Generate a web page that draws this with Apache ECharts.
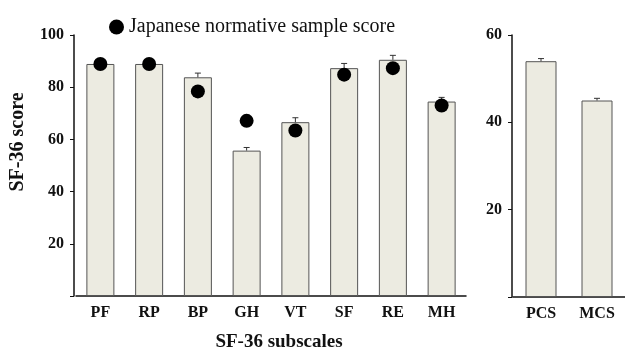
<!DOCTYPE html>
<html>
<head>
<meta charset="utf-8">
<script src="https://cdn.jsdelivr.net/npm/echarts@6/dist/echarts.min.js"></script>
<style>
  html, body { margin: 0; padding: 0; background: #fff; }
  #chart { width: 625px; height: 352px; }
</style>
</head>
<body>
<div id="chart"></div>
<script>
let chart = echarts.init(document.getElementById("chart"));

// SF-36 subscales (left panel)
let subscales = ["PF", "RP", "BP", "GH", "VT", "SF", "RE", "MH"];
let subscaleMean = [88.9, 88.9, 83.8, 55.7, 66.6, 87.3, 90.5, 74.5];
let subscaleSE = [0.5, 0.5, 1.6, 1.2, 1.7, 1.8, 1.7, 1.6];
let japaneseNorm = [88.9, 88.9, 78.4, 67.1, 63.4, 84.8, 87.3, 73.0];

// summary scores (right panel)
let summary = ["PCS", "MCS"];
let summaryMean = [54.0, 45.0];
let summarySE = [0.6, 0.5];

let serif = "Liberation Serif";
let barFill = "#ecebe1";
let ink = "#111";

function errorBar(params, api) {
  let i = api.value(0);
  let base = api.coord([i, api.value(1)]);
  let top = api.coord([i, api.value(1) + api.value(2)]);
  let cap = 3;
  return {
    type: "group",
    children: [
      { type: "line", shape: { x1: base[0], y1: base[1], x2: top[0], y2: top[1] }, style: { stroke: "#333", lineWidth: 1 } },
      { type: "line", shape: { x1: top[0] - cap, y1: top[1], x2: top[0] + cap, y2: top[1] }, style: { stroke: "#333", lineWidth: 1 } },
    ],
  };
}

let yLabel = {
  fontFamily: serif,
  fontWeight: "bold",
  fontSize: 16,
  color: ink,
  margin: 10,
};
let xLabel = {
  fontFamily: serif,
  fontWeight: "bold",
  fontSize: 16,
  color: ink,
  margin: 9,
};

chart.setOption({
  animation: false,
  legend: {
    data: ["Japanese normative sample score"],
    left: 104,
    top: 12,
    icon: "circle",
    itemWidth: 15,
    itemHeight: 15,
    textStyle: { fontFamily: serif, fontSize: 20, color: ink },
  },
  grid: [
    { left: 76, top: 35, width: 390, height: 261 },
    { left: 513, top: 35, width: 114, height: 262 },
  ],
  xAxis: [
    {
      type: "category",
      gridIndex: 0,
      data: subscales,
      axisLine: { lineStyle: { color: ink, width: 1.5 } },
      axisTick: { alignWithLabel: true, length: 3, lineStyle: { color: "#888" } },
      axisLabel: xLabel,
    },
    {
      type: "category",
      gridIndex: 1,
      data: summary,
      axisLine: { lineStyle: { color: ink, width: 1.5 } },
      axisTick: { alignWithLabel: true, length: 3, lineStyle: { color: "#888" } },
      axisLabel: xLabel,
    },
  ],
  yAxis: [
    {
      type: "value",
      gridIndex: 0,
      min: 0,
      max: 100,
      interval: 20,
      offset: 2,
      splitLine: { show: false },
      axisLine: { show: true, lineStyle: { color: ink, width: 1.5 } },
      axisTick: { show: true, length: 4, lineStyle: { color: ink } },
      axisLabel: Object.assign({}, yLabel, {
        formatter: function (v) { return v === 0 ? "" : v; },
      }),
    },
    {
      type: "value",
      gridIndex: 1,
      min: 0,
      max: 60,
      interval: 20,
      offset: 1,
      splitLine: { show: false },
      axisLine: { show: true, lineStyle: { color: ink, width: 1.5 } },
      axisTick: { show: true, length: 4, lineStyle: { color: ink } },
      axisLabel: Object.assign({}, yLabel, {
        formatter: function (v) { return v === 0 ? "" : v; },
      }),
    },
  ],
  series: [
    {
      name: "Subscale score",
      type: "bar",
      xAxisIndex: 0,
      yAxisIndex: 0,
      barWidth: 28,
      data: subscaleMean,
      itemStyle: { color: barFill, borderColor: "#555", borderWidth: 1 },
    },
    {
      name: "Subscale SE",
      type: "custom",
      xAxisIndex: 0,
      yAxisIndex: 0,
      renderItem: errorBar,
      encode: { x: 0, y: 1 },
      data: subscales.map(function (c, i) { return [i, subscaleMean[i], subscaleSE[i]]; }),
      z: 3,
    },
    {
      name: "Japanese normative sample score",
      type: "scatter",
      xAxisIndex: 0,
      yAxisIndex: 0,
      symbol: "circle",
      symbolSize: 14,
      data: japaneseNorm,
      itemStyle: { color: "#000", opacity: 1 },
      z: 4,
    },
    {
      name: "Summary score",
      type: "bar",
      xAxisIndex: 1,
      yAxisIndex: 1,
      barWidth: 31,
      data: summaryMean,
      itemStyle: { color: barFill, borderColor: "#555", borderWidth: 1 },
    },
    {
      name: "Summary SE",
      type: "custom",
      xAxisIndex: 1,
      yAxisIndex: 1,
      renderItem: errorBar,
      encode: { x: 0, y: 1 },
      data: summary.map(function (c, i) { return [i, summaryMean[i], summarySE[i]]; }),
      z: 3,
    },
  ],
  graphic: [
    {
      type: "text",
      x: 18,
      y: 142,
      rotation: Math.PI / 2,
      style: {
        text: "SF-36 score",
        fontFamily: serif,
        fontWeight: "bold",
        fontSize: 20,
        fill: ink,
        align: "center",
        verticalAlign: "middle",
      },
    },
    {
      type: "text",
      x: 279,
      y: 342,
      style: {
        text: "SF-36 subscales",
        fontFamily: serif,
        fontWeight: "bold",
        fontSize: 19,
        fill: ink,
        align: "center",
        verticalAlign: "middle",
      },
    },
  ],
});
</script>
</body>
</html>
